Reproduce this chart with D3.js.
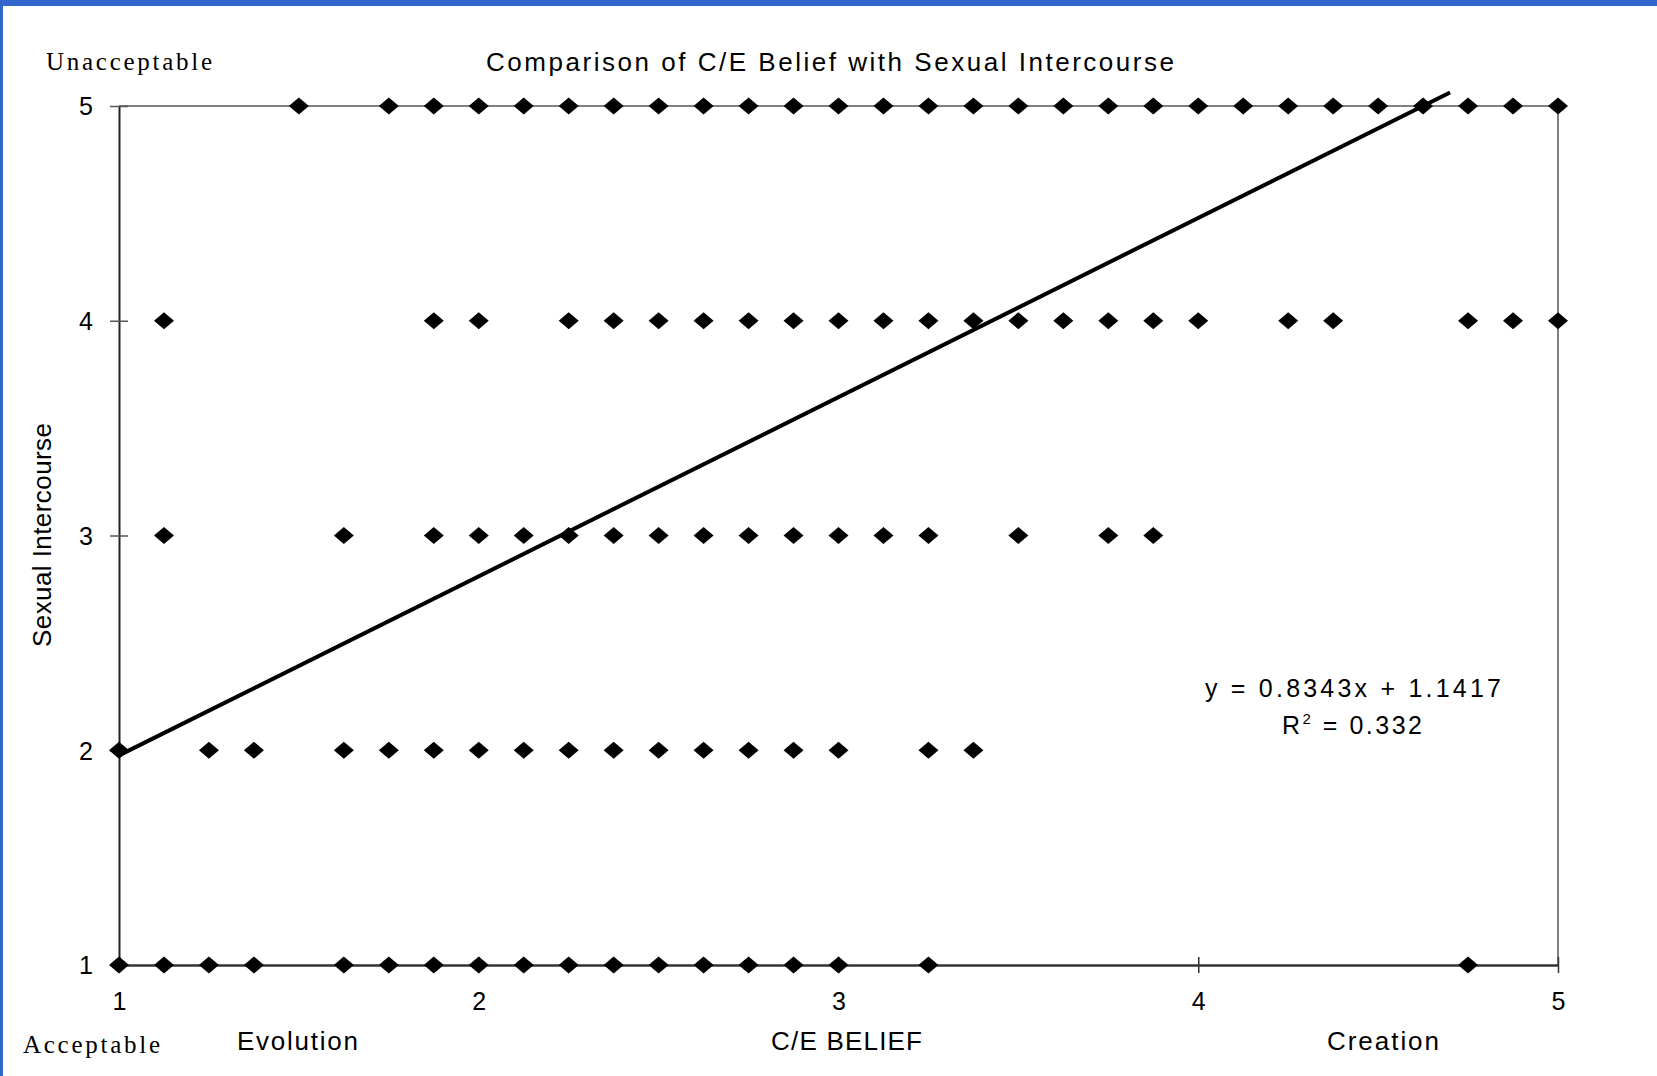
<!DOCTYPE html>
<html><head><meta charset="utf-8">
<script src="https://cdn.jsdelivr.net/npm/d3@7"></script>
<style>html,body{margin:0;padding:0;background:#fff;overflow:hidden}</style>
</head><body>
<script>
// Data: C/E belief (x) vs Sexual Intercourse rating (y)
const row5 = [1.5,1.75,1.875,2,2.125,2.25,2.375,2.5,2.625,2.75,2.875,3,3.125,3.25,3.375,3.5,3.625,3.75,3.875,4,4.125,4.25,4.375,4.5,4.625,4.75,4.875,5];
const row4 = [1.125,1.875,2,2.25,2.375,2.5,2.625,2.75,2.875,3,3.125,3.25,3.375,3.5,3.625,3.75,3.875,4,4.25,4.375,4.75,4.875,5];
const row3 = [1.125,1.625,1.875,2,2.125,2.25,2.375,2.5,2.625,2.75,2.875,3,3.125,3.25,3.5,3.75,3.875];
const row2 = [1,1.25,1.375,1.625,1.75,1.875,2,2.125,2.25,2.375,2.5,2.625,2.75,2.875,3,3.25,3.375];
const row1 = [1,1.125,1.25,1.375,1.625,1.75,1.875,2,2.125,2.25,2.375,2.5,2.625,2.75,2.875,3,3.25,4.75];
const rowLevels = [5,4,3,2,1];
const xTicks = [1,2,3,4,5];
const yTicks = [1,2,3,4,5];
const slope = 0.8343, intercept = 1.1417, rSquared = 0.332;
const trendRange = [1, 4.7];

const W = 1657, H = 1076;
const svg = d3.select("body").append("svg").attr("width", W).attr("height", H);

// frame
svg.append("rect").attr("x",0).attr("y",0).attr("width",W).attr("height",6).attr("fill","#3366cc");
svg.append("rect").attr("x",0).attr("y",0).attr("width",3).attr("height",H).attr("fill","#3366cc");

const x = d3.scaleLinear().domain([1,5]).range([119,1558]);
const y = d3.scaleLinear().domain([1,5]).range([965,106]);

const sans = "Liberation Sans, Arial, sans-serif";
const serif = "Liberation Serif, Times New Roman, serif";

// plot border (top/right gray)
svg.append("line").attr("x1",x(1)).attr("x2",x(5)).attr("y1",y(5)).attr("y2",y(5)).attr("stroke","#808080").attr("stroke-width",2);
svg.append("line").attr("x1",x(5)).attr("x2",x(5)).attr("y1",y(5)).attr("y2",y(1)).attr("stroke","#808080").attr("stroke-width",2);

// axes
const yAxis = d3.axisLeft(y).tickValues(yTicks).tickSizeInner(9).tickSizeOuter(0).tickPadding(17).tickFormat(d3.format("d"));
const gy = svg.append("g").attr("transform",`translate(${x(1)},0)`).call(yAxis);
gy.select(".domain").attr("stroke","#222").attr("stroke-width",2);
gy.selectAll(".tick line").attr("x2",9).attr("x1",-9).attr("stroke","#555").attr("stroke-width",1.5);
gy.selectAll(".tick text").attr("font-family",sans).attr("font-size",25).attr("fill","#000").attr("dy","0.35em");

const xAxis = d3.axisBottom(x).tickValues(xTicks).tickSizeInner(8).tickSizeOuter(0).tickPadding(19).tickFormat(d3.format("d"));
const gx = svg.append("g").attr("transform",`translate(0,${y(1)})`).call(xAxis);
gx.select(".domain").attr("stroke","#333").attr("stroke-width",2.5);
gx.selectAll(".tick line").attr("y1",-8).attr("y2",8).attr("stroke","#333").attr("stroke-width",1.5);
gx.selectAll(".tick text").attr("font-family",sans).attr("font-size",25).attr("fill","#000");

// points
const rows = [row5,row4,row3,row2,row1];
const pts = [];
rows.forEach((r,i)=> r.forEach(v=> pts.push({x:v, y:rowLevels[i]})));
const dw = 10, dh = 8.5;
svg.append("g").selectAll("path").data(pts).join("path")
  .attr("d", d => {
    const cx = x(d.x), cy = y(d.y);
    return `M${cx-dw},${cy}L${cx},${cy-dh}L${cx+dw},${cy}L${cx},${cy+dh}Z`;
  })
  .attr("fill","#000");

// trendline
const line = d3.line().x(d=>x(d)).y(d=>y(slope*d+intercept));
svg.append("path").attr("d", line(trendRange)).attr("stroke","#000").attr("stroke-width",4).attr("fill","none");

// texts
svg.append("text").attr("x",486).attr("y",71).attr("font-family",sans).attr("font-size",26)
  .attr("textLength",688).attr("lengthAdjust","spacing").text("Comparison of C/E Belief with Sexual Intercourse");
svg.append("text").attr("x",46).attr("y",70).attr("font-family",serif).attr("font-size",25)
  .attr("textLength",166).attr("lengthAdjust","spacing").text("Unacceptable");
svg.append("text").attr("x",23).attr("y",1053).attr("font-family",serif).attr("font-size",25)
  .attr("textLength",137).attr("lengthAdjust","spacing").text("Acceptable");
svg.append("text").attr("x",237).attr("y",1050).attr("font-family",sans).attr("font-size",26)
  .attr("textLength",121).attr("lengthAdjust","spacing").text("Evolution");
svg.append("text").attr("x",771).attr("y",1050).attr("font-family",sans).attr("font-size",26)
  .attr("textLength",151).attr("lengthAdjust","spacing").text("C/E BELIEF");
svg.append("text").attr("x",1327).attr("y",1050).attr("font-family",sans).attr("font-size",26)
  .attr("textLength",112).attr("lengthAdjust","spacing").text("Creation");
svg.append("text").attr("transform","translate(51,535) rotate(-90)").attr("text-anchor","middle")
  .attr("font-family",sans).attr("font-size",26).attr("textLength",224).attr("lengthAdjust","spacing")
  .text("Sexual Intercourse");

svg.append("text").attr("x",1205).attr("y",697).attr("font-family",sans).attr("font-size",25)
  .attr("textLength",296).attr("lengthAdjust","spacing")
  .text(`y = ${slope}x + ${intercept}`);
const r2 = svg.append("text").attr("x",1282).attr("y",734).attr("font-family",sans).attr("font-size",25)
  .attr("letter-spacing",2.5);
r2.append("tspan").text("R");
r2.append("tspan").attr("font-size",15).attr("dy",-10).text("2");
r2.append("tspan").attr("dy",10).text(" = " + rSquared);
</script>
</body></html>
